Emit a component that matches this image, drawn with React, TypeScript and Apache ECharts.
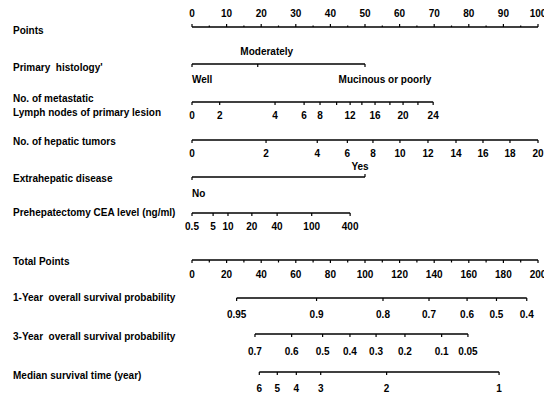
import React, { useEffect, useRef } from "react";
import * as echarts from "echarts";

// ---------- data ----------
const POINTS_VALUES = [0, 5, 10, 15, 20, 25, 30, 35, 40, 45, 50, 55, 60, 65, 70, 75, 80, 85, 90, 95, 100];
const POINTS_LABELS = ["0", "", "10", "", "20", "", "30", "", "40", "", "50", "", "60", "", "70", "", "80", "", "90", "", "100"];

const HISTOLOGY_LABELS = ["Well", "Moderately", "Mucinous or poorly"];
const HISTOLOGY_POINTS = [0, 19, 50];

const LYMPH_NODES = ["0", "2", "4", "6", "8", "", "12", "", "16", "", "20", "", "24"];
const LYMPH_POINTS = [0, 8, 24, 32.4, 37, 41.8, 45.7, 49.1, 52.9, 57.2, 61, 65.3, 69.7];

const HEPATIC_TUMORS = ["0", "2", "4", "6", "8", "10", "12", "14", "16", "18", "20"];
const HEPATIC_POINTS = [0, 21.4, 36.2, 44.9, 52.3, 60.1, 68.2, 76.3, 84.1, 91.9, 100];

const EXTRAHEPATIC_LABELS = ["No", "Yes"];
const EXTRAHEPATIC_POINTS = [0, 50];

const CEA_LEVELS = ["0.5", "5", "10", "20", "40", "100", "400"];
const CEA_POINTS = [0, 6.1, 10.4, 17.3, 24.6, 34.6, 45.7];

const TOTAL_VALUES = [0, 10, 20, 30, 40, 50, 60, 70, 80, 90, 100, 110, 120, 130, 140, 150, 160, 170, 180, 190, 200];
const TOTAL_LABELS = ["0", "", "20", "", "40", "", "60", "", "80", "", "100", "", "120", "", "140", "", "160", "", "180", "", "200"];

const SURV1_LABELS = ["0.95", "0.9", "0.8", "0.7", "0.6", "0.5", "0.4"];
const SURV1_TOTAL = [25.8, 72, 110.4, 137, 159, 176, 193.5];

const SURV3_LABELS = ["0.7", "0.6", "0.5", "0.4", "0.3", "0.2", "0.1", "0.05"];
const SURV3_TOTAL = [36.4, 57.6, 75.5, 91.3, 106.4, 123.1, 144.3, 159.5];

const MEDIAN_LABELS = ["6", "5", "4", "3", "2", "1"];
const MEDIAN_TOTAL = [38.9, 49.3, 60.3, 74.4, 112.5, 177.5];

const ROW_NAMES = [
  { text: "Points", y: 30 },
  { text: "Primary  histology'", y: 67 },
  { text: "No. of metastatic", y: 98 },
  { text: "Lymph nodes of primary lesion", y: 112 },
  { text: "No. of hepatic tumors", y: 141 },
  { text: "Extrahepatic disease", y: 178 },
  { text: "Prehepatectomy CEA level (ng/ml)", y: 212 },
  { text: "Total Points", y: 261 },
  { text: "1-Year  overall survival probability", y: 297 },
  { text: "3-Year  overall survival probability", y: 336 },
  { text: "Median survival time (year)", y: 375 },
];

// ---------- layout / style ----------
const FONT = '"Liberation Sans", Arial, sans-serif';
const LABEL_FONT = `bold 10px ${FONT}`;
const NAME_FONT = `bold 10px ${FONT}`;

type Row = {
  axis: number;
  y: number;
  values: number[];
  labels: string[];
  tickDir: number;
  tickLen: number[] | number;
  labelDy: number[] | number;
  labelDx?: number[];
  align?: string[];
  tickDirs?: number[];
};

const pick = (v: number[] | number, i: number) => (Array.isArray(v) ? v[i] : v);

const ROWS: Row[] = [
  {
    axis: 0, y: 27, values: POINTS_VALUES, labels: POINTS_LABELS, tickDir: -1,
    tickLen: POINTS_LABELS.map((l) => (l ? 3 : 1.5)), labelDy: -14,
  },
  {
    axis: 0, y: 64, values: HISTOLOGY_POINTS, labels: HISTOLOGY_LABELS, tickDir: 1, tickLen: 3,
    labelDy: [15, -13, 15], labelDx: [0, 9, 20], align: ["left", "center", "center"],
  },
  { axis: 0, y: 102, values: LYMPH_POINTS, labels: LYMPH_NODES, tickDir: 1, tickLen: 3, labelDy: 13 },
  { axis: 0, y: 140, values: HEPATIC_POINTS, labels: HEPATIC_TUMORS, tickDir: 1, tickLen: 3, labelDy: 13 },
  {
    axis: 0, y: 177, values: EXTRAHEPATIC_POINTS, labels: EXTRAHEPATIC_LABELS, tickDir: 1, tickLen: 3,
    labelDy: [16, -11], labelDx: [0, -5], align: ["left", "center"], tickDirs: [1, -1],
  },
  { axis: 0, y: 213, values: CEA_POINTS, labels: CEA_LEVELS, tickDir: 1, tickLen: 3, labelDy: 13 },
  {
    axis: 1, y: 260, values: TOTAL_VALUES, labels: TOTAL_LABELS, tickDir: 1,
    tickLen: TOTAL_LABELS.map((l) => (l ? 3 : 2.5)), labelDy: 14,
  },
  { axis: 1, y: 298, values: SURV1_TOTAL, labels: SURV1_LABELS, tickDir: 1, tickLen: 3, labelDy: 16 },
  { axis: 1, y: 334, values: SURV3_TOTAL, labels: SURV3_LABELS, tickDir: 1, tickLen: 3, labelDy: 17 },
  { axis: 1, y: 372, values: MEDIAN_TOTAL, labels: MEDIAN_LABELS, tickDir: 1, tickLen: 3, labelDy: 16 },
];

function buildOption() {
  const series: any[] = [];
  ROWS.forEach((row, r) => {
    series.push({
      type: "line",
      name: `axis-${r}`,
      xAxisIndex: row.axis,
      yAxisIndex: 0,
      data: [
        [row.values[0], row.y],
        [row.values[row.values.length - 1], row.y],
      ],
      symbol: "none",
      silent: true,
      lineStyle: { color: "#000", width: 1.4 },
    });
    series.push({
      type: "custom",
      name: `ticks-${r}`,
      xAxisIndex: row.axis,
      yAxisIndex: 0,
      clip: false,
      silent: true,
      data: row.values.map((v) => [v, row.y]),
      renderItem: (params: any, api: any) => {
        const i = params.dataIndex;
        const p = api.coord([api.value(0), api.value(1)]);
        const dir = row.tickDirs ? row.tickDirs[i] : row.tickDir;
        const len = pick(row.tickLen, i);
        const children: any[] = [
          {
            type: "line",
            shape: { x1: p[0], y1: p[1], x2: p[0], y2: p[1] + dir * len },
            style: { stroke: "#000", lineWidth: 1.2 },
          },
        ];
        const text = row.labels[i];
        if (text) {
          children.push({
            type: "text",
            x: p[0] + (row.labelDx ? row.labelDx[i] : 0),
            y: p[1] + pick(row.labelDy, i),
            style: {
              text,
              fill: "#000",
              font: LABEL_FONT,
              align: row.align ? row.align[i] : "center",
              verticalAlign: "middle",
            },
          });
        }
        return { type: "group", children };
      },
    });
  });

  return {
    animation: false,
    backgroundColor: "#fff",
    grid: { left: 192, right: 6, top: 0, bottom: 0, containLabel: false },
    xAxis: [
      { type: "value", min: 0, max: 100, show: false },
      { type: "value", min: 0, max: 200, show: false },
    ],
    yAxis: { type: "value", min: 0, max: 397, inverse: true, show: false },
    graphic: ROW_NAMES.map((n) => ({
      type: "text",
      x: 13,
      y: n.y,
      silent: true,
      style: { text: n.text, fill: "#000", font: NAME_FONT, verticalAlign: "middle" },
    })),
    series,
  };
}

export default function App() {
  const ref = useRef<HTMLDivElement>(null);
  useEffect(() => {
    if (!ref.current) return;
    const chart = echarts.init(ref.current, undefined, { renderer: "svg" });
    chart.setOption(buildOption() as any);
    return () => chart.dispose();
  }, []);
  return (
    <div
      ref={ref}
      style={{ position: "fixed", left: 0, top: 0, width: 544, height: 397, background: "#fff" }}
    />
  );
}
